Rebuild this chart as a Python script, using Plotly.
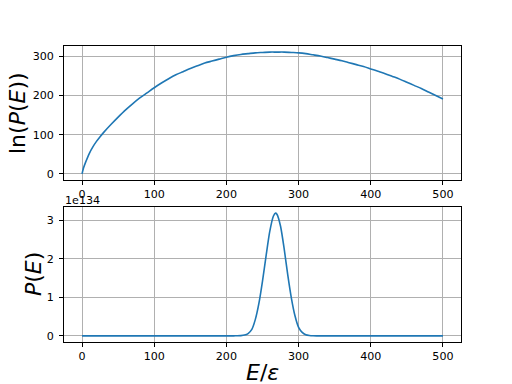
import plotly.graph_objects as go

# Top panel: ln(P(E))
E_top = [0, 2, 5, 10, 15, 20, 25, 30, 40, 50, 60, 70, 80, 90, 100, 110, 120, 130, 140,
         150, 160, 170, 180, 190, 200, 210, 220, 230, 240, 250, 260, 270, 280, 290,
         300, 310, 320, 330, 340, 350, 360, 370, 380, 390, 400, 410, 420, 430, 440,
         450, 460, 470, 480, 490, 500]
lnP = [0, 15, 30, 52, 69, 83, 95, 106, 126, 145, 163, 179, 194, 207, 220, 232, 243, 253, 261,
       269, 276, 283, 288, 293, 298, 302, 305, 307, 309, 310, 311, 311, 311, 310,
       309, 307, 304, 301, 297, 293, 289, 284, 279, 274, 268, 262, 256, 249, 242,
       234, 226, 218, 209, 200, 191]

# Bottom panel: P(E) in units of 1e134
E_bot = [0, 50, 100, 150, 200, 210, 215, 220, 225, 230, 235, 240, 245, 250, 255, 260,
         265, 268, 270, 275, 280, 285, 290, 295, 300, 305, 310, 315, 320, 325, 330,
         350, 400, 450, 500]
P_1e134 = [0, 0, 0, 0, 0, 0.0005, 0.002, 0.006, 0.02, 0.06, 0.16, 0.42, 0.84, 1.42, 2.08, 2.70,
           3.10, 3.18, 3.15, 2.84, 2.26, 1.58, 0.98, 0.52, 0.22, 0.09, 0.03, 0.01, 0.003, 0.001, 0,
           0, 0, 0, 0]
offset_label = "1e134"

x_ticks = [0, 100, 200, 300, 400, 500]
top_ticks = [0, 100, 200, 300]
bot_ticks = [0, 1, 2, 3]

blue = "#1f77b4"
font = "DejaVu Sans"
tick_font = dict(family=font, size=11.1, color="black")

fig = go.Figure()
fig.add_trace(go.Scatter(x=E_top, y=lnP, mode="lines",
                         line=dict(color=blue, width=1.6, shape="spline", smoothing=0.8),
                         xaxis="x", yaxis="y", showlegend=False, hoverinfo="skip"))
fig.add_trace(go.Scatter(x=E_bot, y=P_1e134, mode="lines",
                         line=dict(color=blue, width=1.6, shape="spline", smoothing=0.6),
                         xaxis="x2", yaxis="y2", showlegend=False, hoverinfo="skip"))

axis_common = dict(showline=True, linecolor="black", linewidth=0.9, mirror=True,
                   ticks="outside", ticklen=4, tickwidth=0.9, tickcolor="black",
                   showgrid=True, gridcolor="#b0b0b0", gridwidth=0.9,
                   zeroline=False, tickfont=tick_font, automargin=False)

H = 296.0
fig.update_layout(
    width=512, height=384,
    margin=dict(l=64, r=51, t=46, b=42),
    paper_bgcolor="white", plot_bgcolor="white",
    xaxis=dict(domain=[0, 1], anchor="y", range=[-25, 525], tickvals=x_ticks,
               **axis_common),
    yaxis=dict(domain=[(342 - 180) / H, 1], anchor="x", range=[-15.55, 326.55],
               tickvals=top_ticks, ticklabelstandoff=3, **axis_common),
    xaxis2=dict(domain=[0, 1], anchor="y2", range=[-25, 525], tickvals=x_ticks,
                **axis_common),
    yaxis2=dict(domain=[0, (342 - 207) / H], anchor="x2", range=[-0.159, 3.339],
                tickvals=bot_ticks, ticklabelstandoff=3, **axis_common),
)

big = dict(family=font, size=22, color="black")
fig.add_annotation(text="ln(<i>P</i>(<i>E</i>))", xref="paper", yref="paper",
                   x=(18 - 64) / 397, y=(342 - 113) / H, textangle=-90,
                   showarrow=False, font=big, xanchor="center", yanchor="middle")
fig.add_annotation(text="<i>P</i>(<i>E</i>)", xref="paper", yref="paper",
                   x=(33 - 64) / 397, y=(342 - 274) / H, textangle=-90,
                   showarrow=False, font=big, xanchor="center", yanchor="middle")
fig.add_annotation(text="<i>E</i>/<i>ε</i>", xref="paper", yref="paper",
                   x=0.5, y=(342 - 372) / H, showarrow=False, font=big,
                   xanchor="center", yanchor="middle")
fig.add_annotation(text=offset_label, xref="paper", yref="paper",
                   x=0, y=(342 - 200) / H, showarrow=False, font=tick_font,
                   xanchor="left", yanchor="middle", xshift=-1)

fig.write_html("out.html", config={"displayModeBar": False},
               post_script="document.body.style.margin='0px';")
